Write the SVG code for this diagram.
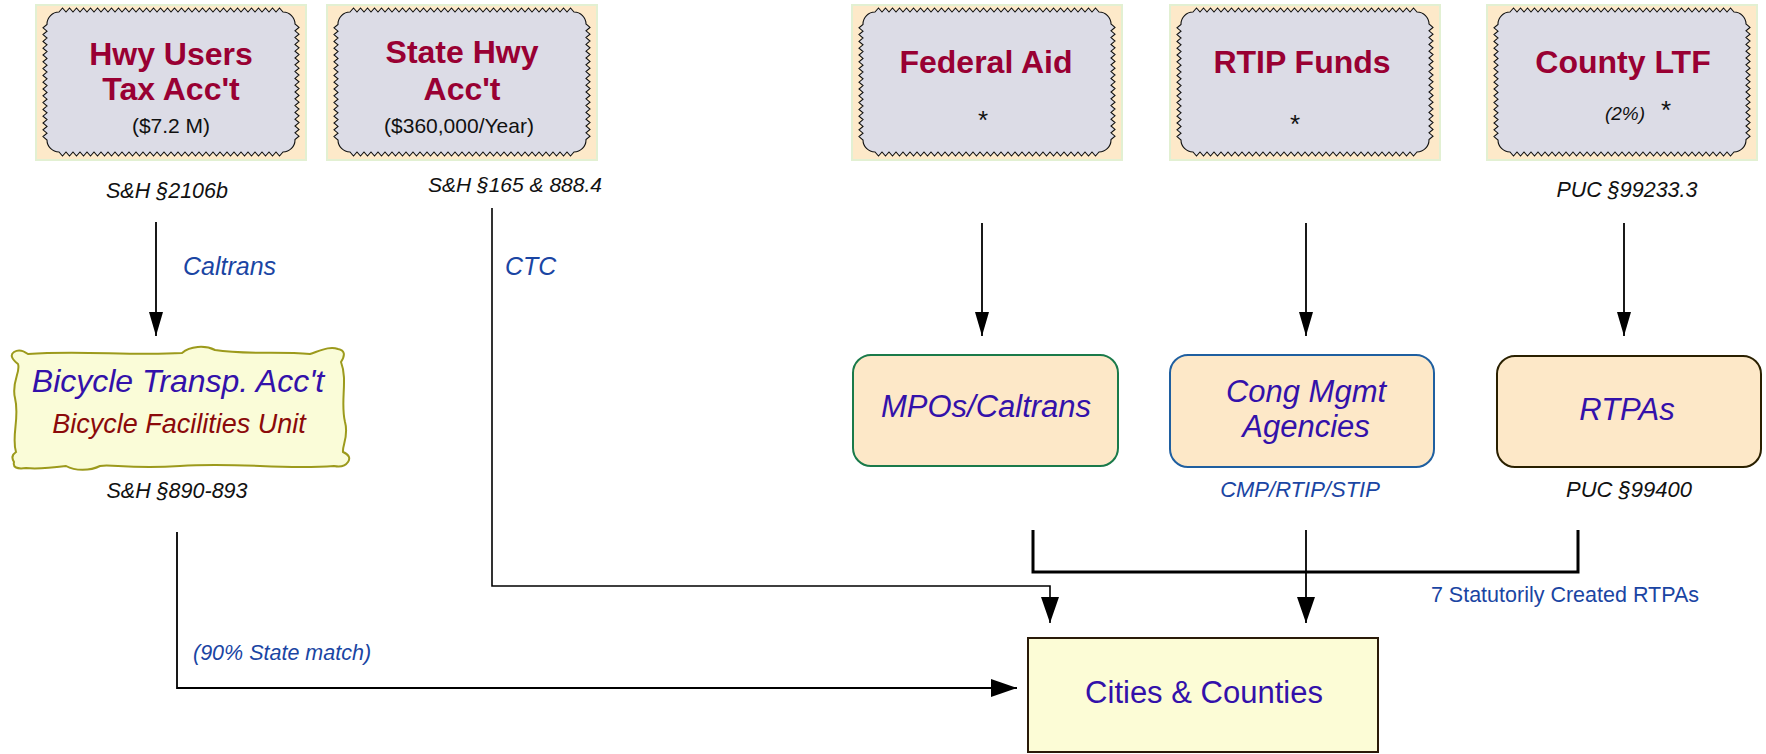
<svg xmlns="http://www.w3.org/2000/svg" xmlns:xlink="http://www.w3.org/1999/xlink" width="1766" height="754" viewBox="0 0 1766 754">
<style>
.outer{fill:#fde9c9;stroke:#e2f0d2;stroke-width:2}
.zz{fill:#dcdce6;stroke:#111;stroke-width:1.1}
.title{font-family:"Liberation Sans",Arial,sans-serif;font-weight:bold;font-size:32px;fill:#990033;text-anchor:middle}
.amt{font-family:"Liberation Sans",Arial,sans-serif;font-size:21px;fill:#111;text-anchor:middle}
.ast{font-family:"Liberation Sans",Arial,sans-serif;font-size:26px;fill:#111;text-anchor:middle}
.law{font-family:"Liberation Sans",Arial,sans-serif;font-style:italic;font-size:21.5px;fill:#111;text-anchor:middle}
.blab{font-family:"Liberation Sans",Arial,sans-serif;font-style:italic;font-size:25px;fill:#1a45a3}
.bsm{font-family:"Liberation Sans",Arial,sans-serif;font-style:italic;font-size:22px;fill:#1a45a3;text-anchor:middle}
.node{font-family:"Liberation Sans",Arial,sans-serif;font-style:italic;font-size:31px;fill:#3311aa;text-anchor:middle}
.rbox{fill:#fde8c8;stroke-width:2}
.ln{fill:none;stroke:#000;stroke-width:1.8}
.thick{fill:none;stroke:#000;stroke-width:3}
</style>
<defs>
<path id="zz" d="M12,0 l
3.5 -4 3.5 4 3.5 -4 3.5 4 3.5 -4 3.5 4 3.5 -4 3.5 4
3.5 -4 3.5 4 3.5 -4 3.5 4 3.5 -4 3.5 4 3.5 -4 3.5 4
3.5 -4 3.5 4 3.5 -4 3.5 4 3.5 -4 3.5 4 3.5 -4 3.5 4
3.5 -4 3.5 4 3.5 -4 3.5 4 3.5 -4 3.5 4 3.5 -4 3.5 4
3.5 -4 3.5 4 3.5 -4 3.5 4 3.5 -4 3.5 4 3.5 -4 3.5 4
3.5 -4 3.5 4 3.5 -4 3.5 4 3.5 -4 3.5 4 3.5 -4 3.5 4
3.5 -4 3.5 4 3.5 -4 3.5 4 3.5 -4 3.5 4 3.5 -4 3.5 4
3.5 -4 3.5 4 3.5 -4 3.5 4 3.5 -4 3.5 4 3.5 -4 3.5 4
L236,0 a12 12 0 0 1 12 12 l
4 3.4 -4 3.4 4 3.4 -4 3.4 4 3.4 -4 3.4 4 3.4 -4 3.4
4 3.4 -4 3.4 4 3.4 -4 3.4 4 3.4 -4 3.4 4 3.4 -4 3.4
4 3.4 -4 3.4 4 3.4 -4 3.4 4 3.4 -4 3.4 4 3.4 -4 3.4
4 3.4 -4 3.4 4 3.4 -4 3.4 4 3.4 -4 3.4 4 3.4 -4 3.4
4 3.4 -4 3.4
L248,128 a12 12 0 0 1 -12 12 l
-3.5 4 -3.5 -4 -3.5 4 -3.5 -4 -3.5 4 -3.5 -4 -3.5 4 -3.5 -4
-3.5 4 -3.5 -4 -3.5 4 -3.5 -4 -3.5 4 -3.5 -4 -3.5 4 -3.5 -4
-3.5 4 -3.5 -4 -3.5 4 -3.5 -4 -3.5 4 -3.5 -4 -3.5 4 -3.5 -4
-3.5 4 -3.5 -4 -3.5 4 -3.5 -4 -3.5 4 -3.5 -4 -3.5 4 -3.5 -4
-3.5 4 -3.5 -4 -3.5 4 -3.5 -4 -3.5 4 -3.5 -4 -3.5 4 -3.5 -4
-3.5 4 -3.5 -4 -3.5 4 -3.5 -4 -3.5 4 -3.5 -4 -3.5 4 -3.5 -4
-3.5 4 -3.5 -4 -3.5 4 -3.5 -4 -3.5 4 -3.5 -4 -3.5 4 -3.5 -4
-3.5 4 -3.5 -4 -3.5 4 -3.5 -4 -3.5 4 -3.5 -4 -3.5 4 -3.5 -4
L12,140 a12 12 0 0 1 -12 -12 l
-4 -3.4 4 -3.4 -4 -3.4 4 -3.4 -4 -3.4 4 -3.4 -4 -3.4 4 -3.4
-4 -3.4 4 -3.4 -4 -3.4 4 -3.4 -4 -3.4 4 -3.4 -4 -3.4 4 -3.4
-4 -3.4 4 -3.4 -4 -3.4 4 -3.4 -4 -3.4 4 -3.4 -4 -3.4 4 -3.4
-4 -3.4 4 -3.4 -4 -3.4 4 -3.4 -4 -3.4 4 -3.4 -4 -3.4 4 -3.4
-4 -3.4 4 -3.4
L0,12 a12 12 0 0 1 12 -12 z"/>
<marker id="ah" markerWidth="24" markerHeight="14" refX="24" refY="7" orient="auto" markerUnits="userSpaceOnUse"><path d="M0,0 L24,7 L0,14 z" fill="#000"/></marker>
<marker id="ahb" markerWidth="26" markerHeight="18" refX="26" refY="9" orient="auto" markerUnits="userSpaceOnUse"><path d="M0,0 L26,9 L0,18 z" fill="#000"/></marker>
</defs>
<rect width="1766" height="754" fill="#fff"/>

<g id="connectors">
<path class="ln" d="M156,222 V336" marker-end="url(#ah)"/>
<path class="ln" d="M982,223 V336" marker-end="url(#ah)"/>
<path class="ln" d="M1306,223 V336" marker-end="url(#ah)"/>
<path class="ln" d="M1624,223 V336" marker-end="url(#ah)"/>
<path class="ln" style="stroke-width:1.6" d="M492,208 V586 H1050 V623" marker-end="url(#ahb)"/>
<path class="thick" d="M1033,530 V572 H1578 V530"/>
<path class="ln" d="M1306,530 V623" marker-end="url(#ahb)"/>
<path class="ln" d="M177,532 V688 H1017" marker-end="url(#ahb)"/>
<text class="blab" x="183" y="275">Caltrans</text>
<text class="blab" x="505" y="275">CTC</text>
<text class="bsm" x="193" y="660" style="text-anchor:start;font-size:21.5px">(90% State match)</text>
<text x="1699" y="602" style="font-family:'Liberation Sans',Arial,sans-serif;font-size:21.5px;fill:#1a45a3;text-anchor:end">7 Statutorily Created RTPAs</text>
</g>

<g id="hwy-users">
<rect class="outer" x="36" y="5" width="270" height="155"/>
<use xlink:href="#zz" href="#zz" class="zz" transform="translate(47,12)"/>
<text class="title" x="171" y="65">Hwy Users</text>
<text class="title" x="171" y="100">Tax Acc't</text>
<text class="amt" x="171" y="133">($7.2 M)</text>
<text class="law" x="167" y="198">S&amp;H §2106b</text>
</g>

<g id="state-hwy">
<rect class="outer" x="327" y="5" width="270" height="155"/>
<use xlink:href="#zz" href="#zz" class="zz" transform="translate(338,12)"/>
<text class="title" x="462" y="63">State Hwy</text>
<text class="title" x="462" y="100">Acc't</text>
<text class="amt" x="459" y="133">($360,000/Year)</text>
<text class="law" x="428" y="192" style="text-anchor:start;font-size:21px">S&amp;H §165 &amp; 888.4</text>
</g>

<g id="federal-aid">
<rect class="outer" x="852" y="5" width="270" height="155"/>
<use xlink:href="#zz" href="#zz" class="zz" transform="translate(863,12)"/>
<text class="title" x="986" y="73">Federal Aid</text>
<text class="ast" x="983" y="129">*</text>
</g>

<g id="rtip-funds">
<rect class="outer" x="1170" y="5" width="270" height="155"/>
<use xlink:href="#zz" href="#zz" class="zz" transform="translate(1181,12)"/>
<text class="title" x="1302" y="73">RTIP Funds</text>
<text class="ast" x="1295" y="133">*</text>
</g>

<g id="county-ltf">
<rect class="outer" x="1487" y="5" width="270" height="155"/>
<use xlink:href="#zz" href="#zz" class="zz" transform="translate(1498,12)"/>
<text class="title" x="1623" y="73">County LTF</text>
<text x="1625" y="120" style="font-family:'Liberation Sans',Arial,sans-serif;font-style:italic;font-size:19px;fill:#111;text-anchor:middle">(2%)</text>
<text class="ast" x="1666" y="119">*</text>
<text class="law" x="1627" y="197">PUC §99233.3</text>
</g>

<g id="bicycle">
<path d="M18,364 Q8,356 14,352 Q20,348 28,354 C80,350 130,356 182,353 C190,346 205,345 215,350 C245,355 280,351 310,354 C322,350 330,346 338,349 Q348,351 341,362 C348,380 340,402 345,422 C349,436 342,446 343,452 Q352,456 348,462 Q344,468 334,466 C280,470 240,462 180,466 C130,469 110,464 100,466 C90,471 75,471 66,466 C50,468 36,469 26,468 Q12,470 14,462 Q10,456 16,452 C11,436 20,418 15,398 C11,382 21,372 18,364 Z" fill="#fafcd8" stroke="#9c9a1c" stroke-width="2"/>
<text class="node" x="178" y="392" style="font-size:32px">Bicycle Transp. Acc't</text>
<text x="179" y="433" style="font-family:'Liberation Sans',Arial,sans-serif;font-style:italic;font-size:27px;fill:#8b0a0a;text-anchor:middle">Bicycle Facilities Unit</text>
<text class="law" x="177" y="498">S&amp;H §890-893</text>
</g>

<g id="mpos">
<rect class="rbox" x="853" y="355" width="265" height="111" rx="18" stroke="#1a7a4a"/>
<text class="node" x="986" y="417">MPOs/Caltrans</text>
</g>

<g id="cong-mgmt">
<rect class="rbox" x="1170" y="355" width="264" height="112" rx="18" stroke="#1f5fa0"/>
<text class="node" x="1306" y="402">Cong Mgmt</text>
<text class="node" x="1306" y="437">Agencies</text>
<text class="bsm" x="1300" y="497">CMP/RTIP/STIP</text>
</g>

<g id="rtpas">
<rect class="rbox" x="1497" y="356" width="264" height="111" rx="18" stroke="#2a2000"/>
<text class="node" x="1627" y="420">RTPAs</text>
<text class="law" x="1629" y="497" style="font-size:22px">PUC §99400</text>
</g>

<g id="cities">
<rect x="1028" y="638" width="350" height="114" fill="#fcfcd6" stroke="#2a1a08" stroke-width="2"/>
<text x="1204" y="703" style="font-family:'Liberation Sans',Arial,sans-serif;font-size:31px;fill:#3311aa;text-anchor:middle">Cities &amp; Counties</text>
</g>
</svg>
